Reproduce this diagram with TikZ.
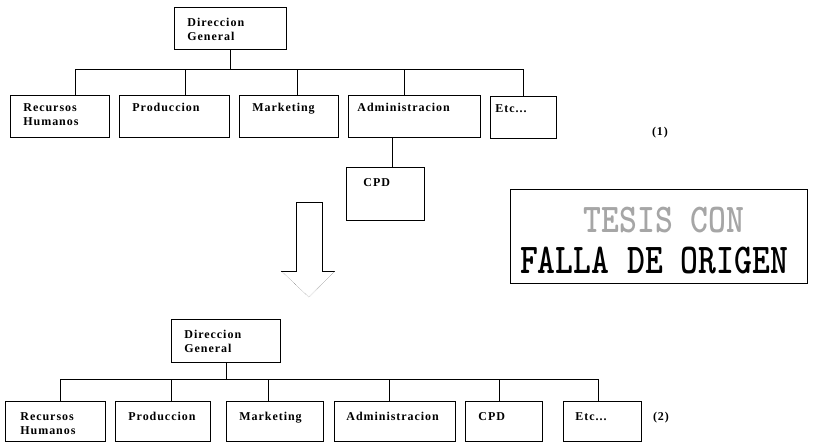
\documentclass[tikz,border=0pt]{standalone}
\usepackage{fontspec}
\usepackage{graphicx}
\usepackage{tikz}
\usetikzlibrary{positioning}
\newfontfamily\orgfont[LetterSpace=8]{Liberation Serif}

\begin{document}
\begin{tikzpicture}[
      x=1pt, y=-1pt,
      font=\orgfont\bfseries\fontsize{12}{14}\selectfont,
      box/.style={draw, line width=0.8pt, anchor=north west, align=left, inner xsep=13pt, inner ysep=0pt, text height=19pt},
      kid/.style={box, text height=16pt, text depth=26pt},
      lnk/.style={line width=0.8pt}
    ]
    \useasboundingbox (0,0) rectangle (819,443);

    % (1) before
    \node[box, text width=86pt, text depth=23pt] (dgA) at (174,7) {Direccion\\General};
    \node[kid, text width=73pt] (rhA) at (10,95) {Recursos\\Humanos};
    \node[kid, text width=84pt] (prA) at (119,95) {Produccion};
    \node[kid, text width=73pt] (mkA) at (239,95) {Marketing};
    \node[kid, text width=114pt, inner xsep=9pt] (adA) at (348,95) {Administracion};
    \node[kid, text width=56pt, inner xsep=5pt] (etA) at (490,96) {Etc...};
    \node[box, text width=44pt, inner xsep=17pt, text depth=34pt] (cpA) at (346,167) {CPD};
    \node (numA) at (660,133) {(1)};

    \coordinate (busA) at (0,69);
    \draw[lnk] (dgA.south) -- (dgA.south |- busA);
    \draw[lnk] ([xshift=15pt]rhA.north) |- (etA.north |- busA) -- (etA.north);
    \foreach \n/\s in {prA/11, mkA/8, adA/-10}
      \draw[lnk] ([xshift=\s pt]\n.north) -- ([xshift=\s pt]\n.north |- busA);
    \draw[lnk] ([xshift=7pt]cpA.north) -- ([xshift=7pt]cpA.north |- adA.south);

    % hollow arrow
    \draw[lnk] (281,271) -- (296,271) -- (296,202) -- (322,202) -- (322,271) -- (335,271);
    \draw[densely dotted, black!60] (281,271) -- (309,297) -- (335,271);

    % stamp
    \draw[line width=1pt] (510,190) rectangle (807,284);
    \node[anchor=base, text=black!35] (tesis) at (664,233)
      {\scalebox{1}[1.2]{\ttfamily\bfseries\fontsize{34}{36}\selectfont TESIS CON}};
    \node[anchor=base] (falla) at (654,274)
      {\scalebox{1}[1.25]{\ttfamily\bfseries\fontsize{34}{36}\selectfont FALLA DE ORIGEN}};

    % (2) after
    \node[box, text width=83pt, inner xsep=13pt, text depth=24pt] (dgB) at (171,319) {Direccion\\General};
    \node[box, text width=70pt, inner xsep=15pt, text depth=21pt] (rhB) at (5,401) {Recursos\\Humanos};
    \node[box, text width=69pt, text depth=21pt] (prB) at (115,401) {Produccion};
    \node[box, text width=71pt, text depth=21pt] (mkB) at (226,401) {Marketing};
    \node[box, text width=97pt, inner xsep=12pt, text depth=21pt] (adB) at (334,401) {Administracion};
    \node[box, text width=51pt, text depth=21pt] (cpB) at (465,401) {CPD};
    \node[box, text width=54pt, inner xsep=12pt, text depth=21pt] (etB) at (563,401) {Etc...};
    \node (numB) at (661,418) {(2)};

    \coordinate (busB) at (0,379);
    \draw[lnk] (dgB.south) -- (dgB.south |- busB);
    \draw[lnk] ([xshift=5pt]rhB.north) |- ([xshift=-4pt]etB.north |- busB) -- ([xshift=-4pt]etB.north);
    \foreach \n/\s in {prB/8, mkB/-7, adB/-6, cpB/-5}
      \draw[lnk] ([xshift=\s pt]\n.north) -- ([xshift=\s pt]\n.north |- busB);
  \end{tikzpicture}
\end{document}
